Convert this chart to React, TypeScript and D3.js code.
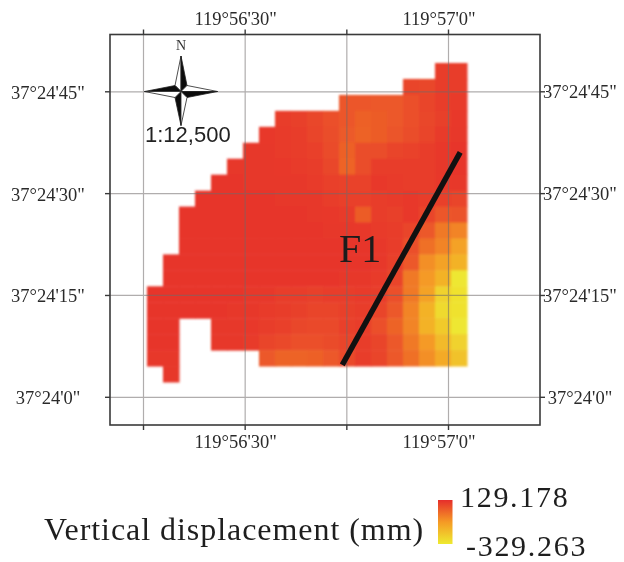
import React, { useEffect, useRef } from 'react'
import * as d3 from 'd3'

type Cell = number | null
const n = null

// longitude / latitude, as seconds past 119°0'0" and past 37°24'0"
const lonTicks = [3375, 3390, 3405, 3420]
const latTicks = [0, 15, 30, 45]
const lonLabels: Record<number, string> = { 3390: `119°56'30"`, 3420: `119°57'0"` }

// vertical displacement in mm
const row00: Cell[] = [n, n, n, n, n, n, n, n, n, n, n, n, n, n, n, n, n, n, 96, 100]
const row01: Cell[] = [n, n, n, n, n, n, n, n, n, n, n, n, n, n, n, n, 83, 78, 96, 100]
const row02: Cell[] = [n, n, n, n, n, n, n, n, n, n, n, n, 45, 42, 38, 38, 60, 83, 96, 104]
const row03: Cell[] = [n, n, n, n, n, n, n, n, 100, 92, 78, 60, 42, 22, 32, 40, 58, 78, 92, 106]
const row04: Cell[] = [n, n, n, n, n, n, n, 106, 104, 96, 83, 64, 35, 18, 32, 47, 62, 83, 104, 110]
const row05: Cell[] = [n, n, n, n, n, n, 110, 108, 104, 100, 88, 68, 22, 62, 62, 80, 84, 96, 106, 112]
const row06: Cell[] = [n, n, n, n, n, 110, 110, 108, 106, 104, 96, 76, 14, 64, 96, 100, 100, 100, 108, 112]
const row07: Cell[] = [n, n, n, n, 112, 112, 110, 110, 110, 108, 104, 90, 84, 84, 106, 104, 100, 100, 106, 108]
const row08: Cell[] = [n, n, n, 112, 112, 112, 112, 112, 110, 110, 108, 96, 90, 88, 100, 104, 106, 100, 88, 83]
const row09: Cell[] = [n, n, 112, 112, 112, 112, 112, 112, 112, 112, 110, 106, 104, 32, 100, 92, 106, 83, 42, 52]
const row10: Cell[] = [n, n, 112, 112, 112, 112, 112, 112, 112, 112, 112, 110, 108, 106, 104, 100, 83, 37, -31, -54]
const row11: Cell[] = [n, n, 112, 112, 112, 112, 112, 112, 112, 112, 112, 112, 112, 112, 110, 100, 60, -8, -54, -123]
const row12: Cell[] = [n, 112, 112, 112, 112, 112, 112, 112, 112, 112, 112, 112, 112, 112, 108, 92, 37, -77, -123, -169]
const row13: Cell[] = [n, 112, 112, 112, 112, 112, 112, 112, 112, 112, 112, 112, 110, 110, 104, 83, -31, -100, -169, -320]
const row14: Cell[] = [112, 112, 112, 112, 112, 112, 110, 110, 100, 96, 92, 96, 100, 104, 96, 60, -31, -123, -260, -306]
const row15: Cell[] = [112, 112, 112, 112, 112, 110, 108, 104, 96, 92, 83, 83, 92, 96, 83, 37, -54, -169, -283, -306]
const row16: Cell[] = [112, 112, n, n, 110, 108, 106, 96, 88, 78, 74, 74, 88, 96, 60, 15, -54, -169, -237, -320]
const row17: Cell[] = [112, 112, n, n, 110, 108, 104, 83, 70, 60, 60, 65, 83, 96, 83, 37, -31, -100, -192, -260]
const row18: Cell[] = [110, 110, n, n, n, n, n, 37, 15, 15, 20, 37, 74, 96, 83, 37, -8, -77, -146, -215]
const row19: Cell[] = [n, 108, n, n, n, n, n, n, n, n, n, n, n, n, n, n, n, n, n, n]
const grid = [row00, row01, row02, row03, row04, row05, row06, row07, row08, row09, row10, row11, row12, row13, row14, row15, row16, row17, row18, row19]

const colorStops = [129.178, -100, -329.263]
const colorRange = ['#e62e2b', '#f59a25', '#eeea30']

// fault F1 end points, in the same seconds
const faultLon = [3404.4, 3421.8]
const faultLat = [4.7, 36]

const serif = '"Liberation Serif", serif'
const sans = '"Liberation Sans", sans-serif'

export default function App() {
  const ref = useRef<SVGSVGElement>(null)

  useEffect(() => {
    const svg = d3.select(ref.current)
    svg.selectAll('*').remove()

    const frame = { left: 110, right: 540, top: 34.5, bottom: 425 }
    const x = d3.scaleLinear().domain([3375, 3420]).range([143, 448])
    const y = d3.scaleLinear().domain([0, 45]).range([396.8, 91.3])
    const col = d3.scaleBand<number>().domain(d3.range(20)).range([147, 467])
    const row = d3.scaleBand<number>().domain(d3.range(20)).range([63, 382])
    const color = d3.scaleLinear<string>().domain(colorStops).range(colorRange)

    const defs = svg.append('defs')
    defs.append('filter').attr('id', 'soft').append('feGaussianBlur').attr('stdDeviation', 0.9)
    const grad = defs.append('linearGradient').attr('id', 'ramp').attr('x1', 0).attr('x2', 0).attr('y1', 0).attr('y2', 1)
    grad.selectAll('stop').data(colorStops).enter().append('stop')
      .attr('offset', d => (129.178 - d) / (129.178 + 329.263))
      .attr('stop-color', d => color(d))

    // cells
    const cells = grid.flatMap((values, r) => values.map((v, c) => ({ r, c, v })).filter(d => d.v !== null))
    svg.append('g').attr('filter', 'url(#soft)')
      .selectAll('rect').data(cells).enter().append('rect')
      .attr('x', d => col(d.c)!)
      .attr('y', d => row(d.r)!)
      .attr('width', col.bandwidth() + 0.5)
      .attr('height', row.bandwidth() + 0.5)
      .attr('fill', d => color(d.v as number))

    // grid lines show through the raster
    const gridG = svg.append('g').attr('opacity', 0.55)
    gridG.append('g').attr('transform', `translate(0,${frame.bottom})`)
      .call(d3.axisBottom(x).tickValues(lonTicks).tickSize(frame.top - frame.bottom).tickFormat(() => ''))
    gridG.append('g').attr('transform', `translate(${frame.left},0)`)
      .call(d3.axisLeft(y).tickValues(latTicks).tickSize(frame.left - frame.right).tickFormat(() => ''))
    gridG.selectAll('.domain').remove()
    gridG.selectAll('line').attr('stroke', '#6f6a6a').attr('stroke-width', 1.2)

    // outer ticks and labels
    const lonLabel = (d: d3.NumberValue) => lonLabels[+d] ?? ''
    const latLabel = (d: d3.NumberValue) => `37°24'${d}"`
    const axes = svg.append('g')
    axes.append('g').attr('transform', `translate(0,${frame.top})`).attr('class', 'lonT')
      .call(d3.axisTop(x).tickValues(lonTicks).tickSize(5).tickSizeOuter(0).tickFormat(lonLabel))
    axes.append('g').attr('transform', `translate(0,${frame.bottom})`).attr('class', 'lonB')
      .call(d3.axisBottom(x).tickValues(lonTicks).tickSize(5).tickSizeOuter(0).tickFormat(lonLabel))
    axes.append('g').attr('transform', `translate(${frame.left},0)`).attr('class', 'latL')
      .call(d3.axisLeft(y).tickValues(latTicks).tickSize(5).tickSizeOuter(0).tickFormat(latLabel))
    axes.append('g').attr('transform', `translate(${frame.right},0)`).attr('class', 'latR')
      .call(d3.axisRight(y).tickValues(latTicks).tickSize(5).tickSizeOuter(0).tickFormat(latLabel))

    axes.selectAll('.domain').remove()
    axes.selectAll('line').attr('stroke', '#3a3a3a').attr('stroke-width', 1.4)
    axes.selectAll('text').attr('font-family', serif).attr('font-size', 18.5).attr('fill', '#2a2a2a')
    axes.selectAll('.lonT text').attr('x', -9.5).attr('y', 25 - frame.top).attr('dy', 0)
    axes.selectAll('.lonB text').attr('x', -9.5).attr('y', 448 - frame.bottom).attr('dy', 0)
    axes.selectAll('.latL text').attr('x', 48 - frame.left).attr('text-anchor', 'middle').attr('dy', '0.38em')
    axes.selectAll('.latR text').attr('x', 580 - frame.right).attr('text-anchor', 'middle').attr('dy', '0.36em')

    svg.append('rect')
      .attr('x', frame.left).attr('y', frame.top)
      .attr('width', frame.right - frame.left).attr('height', frame.bottom - frame.top)
      .attr('fill', 'none').attr('stroke', '#3a3a3a').attr('stroke-width', 1.6)

    // fault
    const line = d3.line<number>().x(d => x(faultLon[d])).y(d => y(faultLat[d]))
    svg.append('path').attr('d', line([0, 1])).attr('fill', 'none').attr('stroke', '#111').attr('stroke-width', 5.5)
    svg.append('text').text('F1').attr('x', 339).attr('y', 262)
      .attr('font-family', serif).attr('font-size', 40).attr('fill', '#1c1c1c')

    // north arrow, pinwheel of dark and light half arms
    const cx = 181, cy = 91.5
    const arms: [number, number][] = [[0, -35.5], [36.5, 0], [0, 34], [-36.5, 0]]
    const inner = 6
    const star = svg.append('g').attr('transform', `translate(${cx},${cy})`)
    arms.forEach(([dx, dy], i) => {
      const horizontal = dy === 0
      const a: [number, number] = horizontal ? [Math.sign(dx) * inner, -inner] : [-inner, Math.sign(dy) * inner]
      const b: [number, number] = horizontal ? [Math.sign(dx) * inner, inner] : [inner, Math.sign(dy) * inner]
      const darkSide = [1, 1, 0, 0][i]
      ;[a, b].forEach((p, j) => {
        star.append('path')
          .attr('d', d3.line()([[0, 0], p, [dx, dy]]) + 'Z')
          .attr('fill', j === darkSide ? '#0c0c0c' : '#fff')
          .attr('stroke', '#222').attr('stroke-width', 0.8).attr('stroke-linejoin', 'round')
      })
    })
    svg.append('text').text('N').attr('x', cx).attr('y', 50).attr('text-anchor', 'middle')
      .attr('font-family', serif).attr('font-size', 14).attr('fill', '#333')
    svg.append('text').text('1:12,500').attr('x', 145).attr('y', 142)
      .attr('font-family', sans).attr('font-size', 22).attr('fill', '#222')

    // legend
    svg.append('rect').attr('x', 438).attr('y', 500).attr('width', 14.5).attr('height', 44).attr('fill', 'url(#ramp)')
    const legendText = [
      { t: 'Vertical displacement (mm)', x: 44, y: 540, ls: 0.95, size: 32 },
      { t: '129.178', x: 460, y: 507, ls: 1.7, size: 30 },
      { t: '-329.263', x: 466, y: 556, ls: 1.7, size: 30 },
    ]
    svg.selectAll('.legend').data(legendText).enter().append('text')
      .text(d => d.t).attr('x', d => d.x).attr('y', d => d.y)
      .attr('letter-spacing', d => d.ls)
      .attr('font-family', serif).attr('font-size', d => d.size).attr('fill', '#1e1e1e')
  }, [])

  return <svg ref={ref} width={624} height={562} style={{ position: 'absolute', left: 0, top: 0 }} />
}
